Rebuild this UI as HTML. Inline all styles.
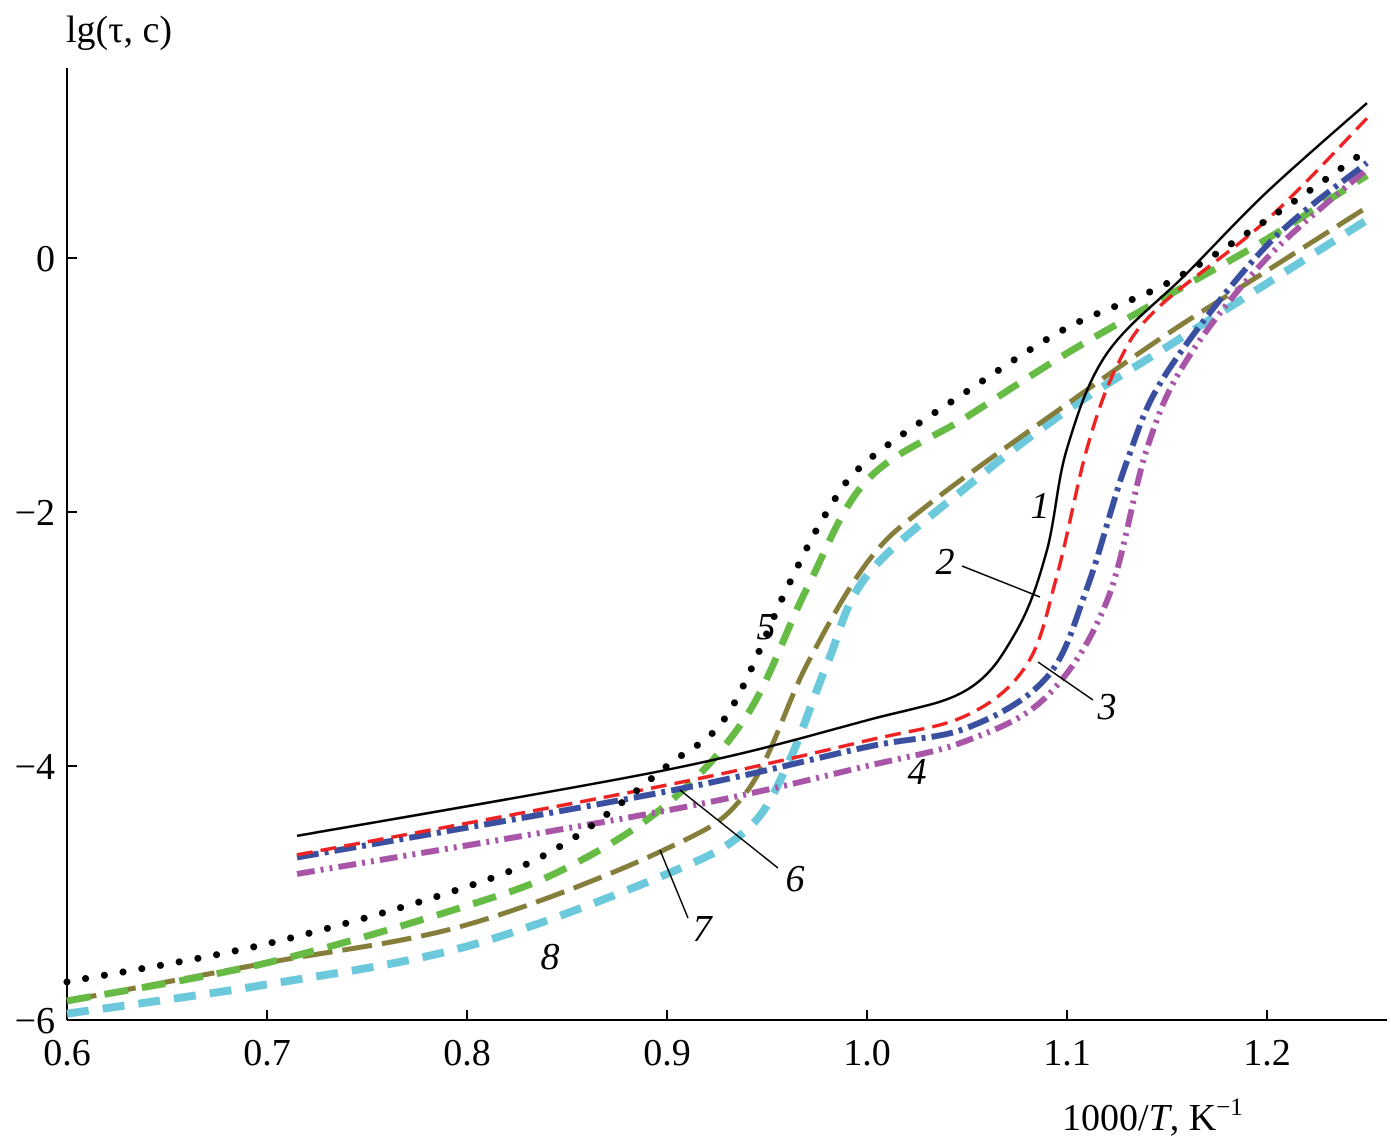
<!DOCTYPE html>
<html><head><meta charset="utf-8"><style>
body{margin:0;background:#fff}
svg{display:block;font-family:"Liberation Serif",serif}
</style></head><body>
<svg id="chart" width="1391" height="1145" viewBox="0 0 1391 1145">
<g id="axes"></g>
<g id="series"></g>
<g id="labels"></g>
</svg>
<script>
const xTicks=[0.6,0.7,0.8,0.9,1.0,1.1,1.2];
const xTickLabels=["0.6","0.7","0.8","0.9","1.0","1.1","1.2"];
const yTicks=[0,-2,-4,-6];
const yTickLabels=["0","\u22122","\u22124","\u22126"];
const s1x=[0.715,0.9,1.0,1.05,1.075,1.09,1.1,1.12,1.16,1.2,1.25];
const s1y=[-4.55,-4.03,-3.64,-3.4,-2.93,-2.3,-1.5,-0.75,-0.12,0.52,1.22];
const s2x=[0.715,0.9,1.0,1.05,1.08,1.095,1.11,1.125,1.145,1.2,1.25];
const s2y=[-4.7,-4.15,-3.8,-3.6,-3.2,-2.5,-1.5,-0.85,-0.4,0.3,1.1];
const s3x=[0.715,0.9,1.0,1.05,1.09,1.11,1.13,1.15,1.2,1.25];
const s3y=[-4.72,-4.2,-3.85,-3.7,-3.3,-2.6,-1.6,-0.9,0.1,0.75];
const s4x=[0.715,0.9,1.0,1.05,1.09,1.12,1.14,1.16,1.2,1.25];
const s4y=[-4.85,-4.35,-4.0,-3.8,-3.45,-2.7,-1.5,-0.8,0.0,0.7];
const s5x=[0.6,0.7,0.8,0.85,0.9,0.93,0.96,0.98,1.0,1.05,1.1,1.15,1.2,1.25];
const s5y=[-5.7,-5.4,-4.95,-4.6,-4.0,-3.6,-2.6,-2.0,-1.6,-1.05,-0.55,-0.2,0.3,0.85];
const s6x=[0.6,0.7,0.8,0.85,0.9,0.94,0.97,1.0,1.05,1.1,1.15,1.2,1.25];
const s6y=[-5.85,-5.55,-5.1,-4.8,-4.3,-3.6,-2.6,-1.75,-1.25,-0.75,-0.3,0.15,0.65];
const s7x=[0.6,0.7,0.8,0.9,0.94,0.97,1.0,1.03,1.1,1.15,1.2,1.25];
const s7y=[-5.85,-5.55,-5.25,-4.65,-4.2,-3.2,-2.4,-1.95,-1.15,-0.6,-0.1,0.4];
const s8x=[0.6,0.7,0.8,0.9,0.94,0.96,0.98,1.0,1.05,1.1,1.15,1.2,1.25];
const s8y=[-5.95,-5.72,-5.42,-4.85,-4.5,-4.0,-3.2,-2.5,-1.8,-1.2,-0.7,-0.2,0.3];

const X=v=>67+(v-0.6)*2000;
const Y=v=>258-v*127;
const NS="http://www.w3.org/2000/svg";
function mk(tag,attrs,parent){const e=document.createElementNS(NS,tag);for(const k in attrs)e.setAttribute(k,attrs[k]);parent.appendChild(e);return e;}
const axes=document.getElementById('axes');
let a=mk('line',{x1:67,y1:68,x2:67,y2:1020,stroke:'#000','stroke-width':2},axes);


a=mk('line',{x1:67,y1:1020,x2:1387,y2:1020,stroke:'#000','stroke-width':2},axes);


xTicks.forEach((t,i)=>{
 const l=mk('line',{x1:X(t),y1:1020,x2:X(t),y2:1010,stroke:'#000','stroke-width':2},axes);
 
 
 const tx=mk('text',{x:X(t),y:1065,'text-anchor':'middle','font-size':38},axes);tx.textContent=xTickLabels[i];
 
 
});
yTicks.forEach((t,i)=>{
 const l=mk('line',{x1:67,y1:Y(t),x2:77,y2:Y(t),stroke:'#000','stroke-width':2},axes);
 
 
 const tx=mk('text',{x:55,y:Y(t)+13,'text-anchor':'end','font-size':38},axes);tx.textContent=yTickLabels[i];
 
 
});
let t=mk('text',{x:66,y:42,'font-size':38},axes);t.textContent='lg(τ, c)';


t=mk('text',{x:1062,y:1130,'font-size':38},axes);
t.innerHTML='1000/<tspan font-style="italic">T</tspan>, K<tspan dy="-15" font-size="25">−1</tspan>';



function path(xs,ys){
 const p=xs.map((x,i)=>[X(x),Y(ys[i])]);
 let d='M'+p[0][0]+','+p[0][1];
 for(let i=0;i<p.length-1;i++){
  const p0=p[i-1]||p[i],p1=p[i],p2=p[i+1],p3=p[i+2]||p2;
  const c1=[p1[0]+(p2[0]-p0[0])/6,p1[1]+(p2[1]-p0[1])/6];
  const c2=[p2[0]-(p3[0]-p1[0])/6,p2[1]-(p3[1]-p1[1])/6];
  d+=`C${c1[0]},${c1[1]} ${c2[0]},${c2[1]} ${p2[0]},${p2[1]}`;
 }
 return d;
}
const ser=document.getElementById('series');
const styles=[
 [s8x,s8y,'#6cc9dc',8,'22 14','butt','curve-8'],
 [s7x,s7y,'#857d3a',5,'30 10','butt','curve-7'],
 [s6x,s6y,'#66bb44',7,'24 14','butt','curve-6'],
 [s4x,s4y,'#a855a8',6,'18 6 3 6 3 6','butt','curve-4'],
 [s3x,s3y,'#3a4fa0',6,'22 6 4 6','butt','curve-3'],
 [s2x,s2y,'#ee2222',3.5,'16 8','butt','curve-2'],
 [s5x,s5y,'#000',7,'0 19','round','curve-5'],
 [s1x,s1y,'#000',2.5,'none','butt','curve-1']
];
styles.forEach(s=>{
 const p=mk('path',{d:path(s[0],s[1]),fill:'none',stroke:s[2],'stroke-width':s[3],'stroke-dasharray':s[4],'stroke-linecap':s[5]},ser);
 
 
});
const lab=document.getElementById('labels');
[['1',1040,518],['2',945,574],['3',1107,719],['4',917,784],['5',766,639],['6',795,891],['7',702,941],['8',550,969]].forEach(l=>{
 const e=mk('text',{x:l[1],y:l[2],'font-size':38,'font-style':'italic','text-anchor':'middle'},lab);e.textContent=l[0];
 
 
});
[[962,566,1040,597],[1093,700,1038,662],[778,868,680,790],[688,918,660,850]].forEach(l=>{
 const e=mk('line',{x1:l[0],y1:l[1],x2:l[2],y2:l[3],stroke:'#000','stroke-width':1.5},lab);
 
 
});
</script>
</body></html>
